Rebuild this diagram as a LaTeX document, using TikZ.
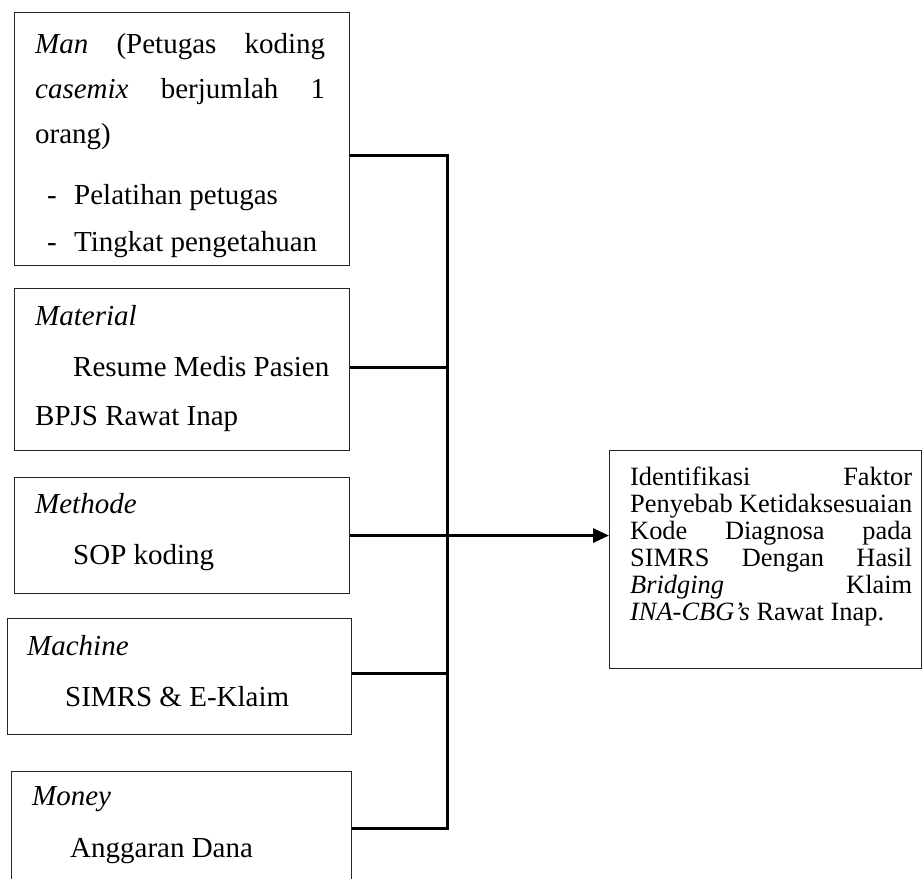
\documentclass[tikz,border=0pt]{standalone}
\usepackage{fontspec}
\setmainfont{Liberation Serif}
\usetikzlibrary{arrows.meta}

\def\factorfont{\fontsize{29}{51}\selectfont}
\def\dashitem#1{\makebox[39pt][l]{\hspace*{12pt}-}#1}
\def\indentline#1{\hspace*{38pt}#1}
\tikzset{factor/.style={draw=black!85, line width=1.1pt, inner sep=0pt, anchor=north west},
    lines/.style={anchor=base west, inner sep=0pt, font=\factorfont},
    link/.style={line width=3pt}}

\begin{document}
\begin{tikzpicture}[x=1pt, y=-1pt]
    \clip (0,0) rectangle (922,879);
    % the five factor boxes
    \node[factor, minimum width=335pt, minimum height=253pt] (man) at (14,12) {};
    \node[factor, minimum width=335pt, minimum height=162pt] (mat) at (14,288) {};
    \node[factor, minimum width=335pt, minimum height=116pt] (met) at (14,477) {};
    \node[factor, minimum width=344pt, minimum height=116pt] (mac) at (7,618) {};
    \node[factor, minimum width=340pt, minimum height=114pt] (mon) at (11,771) {};
    % result box
    \node[factor, minimum width=312pt, minimum height=218pt] (out) at (609,450) {};

    \node[lines, font=\fontsize{29}{45}\selectfont] (man text) at (35,53) {\parbox[t]{290pt}{%
        \makebox[290pt][s]{\textit{Man} (Petugas koding}\\
        \makebox[290pt][s]{\textit{casemix} berjumlah 1}\\
        orang)\\[16pt]
        \dashitem{Pelatihan petugas}\\[2pt]
        \dashitem{Tingkat pengetahuan}}};
    \node[lines] (mat text) at (35,325) {\parbox[t]{300pt}{%
        \textit{Material}\\
        \indentline{Resume Medis Pasien}\\[-2pt]
        BPJS Rawat Inap}};
    \node[lines] (met text) at (35,513) {\parbox[t]{300pt}{%
        \textit{Methode}\\
        \indentline{SOP koding}}};
    \node[lines] (mac text) at (27,655) {\parbox[t]{300pt}{%
        \textit{Machine}\\
        \indentline{SIMRS \& E-Klaim}}};
    \node[lines] (mon text) at (32,805) {\parbox[t]{300pt}{%
        \textit{Money}\\[1pt]
        \indentline{Anggaran Dana}}};
    \node[lines, font=\fontsize{26.4}{27}\selectfont] (out text) at (630,485) {\parbox[t]{282pt}{%
        \makebox[282pt][s]{Identifikasi Faktor}\\
        \makebox[282pt][s]{Penyebab Ketidaksesuaian}\\
        \makebox[282pt][s]{Kode Diagnosa pada}\\
        \makebox[282pt][s]{SIMRS Dengan Hasil}\\
        \makebox[282pt][s]{\textit{Bridging} Klaim}\\
        \textit{INA-CBG's} Rawat Inap.}};

    % connectors
    \coordinate (j1) at (447,155);
    \coordinate (j2) at (447,367);
    \coordinate (j4) at (447,673);
    \coordinate (j5) at (447,828);
    \draw[link] (j1 -| man.east) -- (j1) -- (j5) -- (j5 -| mon.east);
    \draw[link] (j2 -| mat.east) -- (j2);
    \draw[link] (j4 -| mac.east) -- (j4);
    \draw[link, -{Triangle[length=16pt, width=14pt]}] (met.east) -- (met.east -| out.west);
\end{tikzpicture}
\end{document}
